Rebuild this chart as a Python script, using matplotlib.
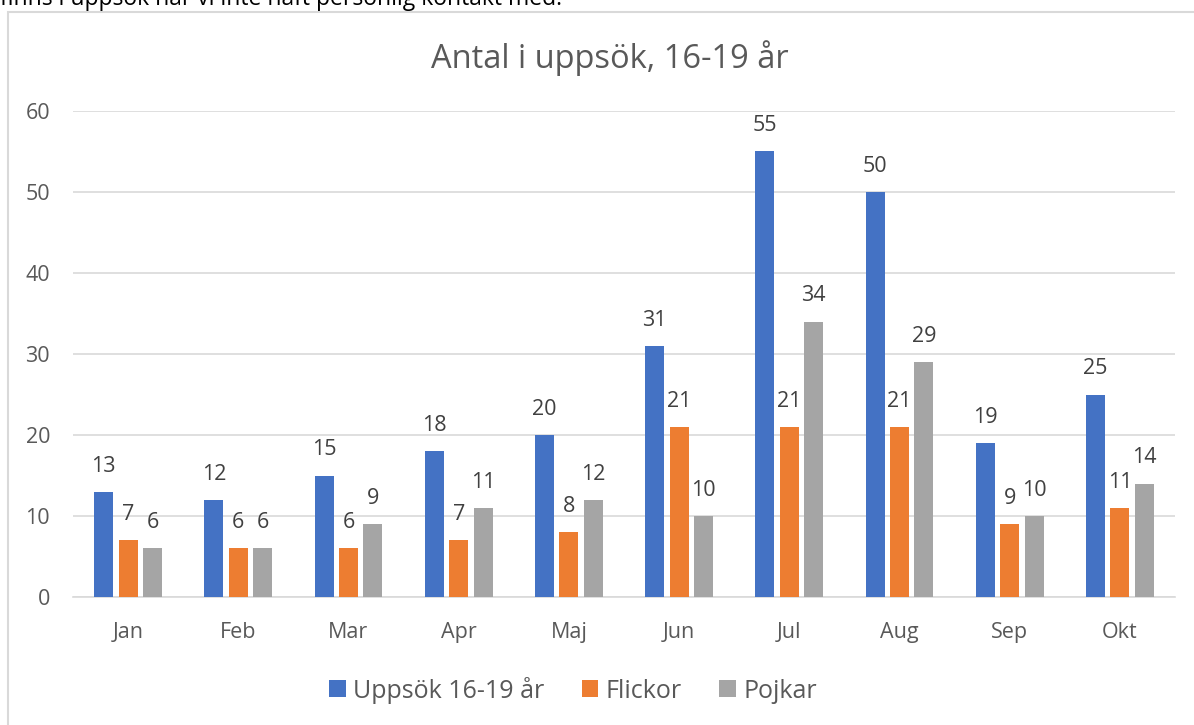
import numpy as np
import matplotlib
matplotlib.use("Agg")
import matplotlib.pyplot as plt
from matplotlib.patches import Rectangle

plt.rcParams['font.family'] = ['Open Sans', 'DejaVu Sans']

months = ["Jan", "Feb", "Mar", "Apr", "Maj", "Jun", "Jul", "Aug", "Sep", "Okt"]
uppsok = [13, 12, 15, 18, 20, 31, 55, 50, 19, 25]
flickor = [7, 6, 6, 7, 8, 21, 21, 21, 9, 11]
pojkar = [6, 6, 9, 11, 12, 10, 34, 29, 10, 14]

series = [("Uppsök 16-19 år", uppsok, "#4472C4"),
          ("Flickor", flickor, "#ED7D31"),
          ("Pojkar", pojkar, "#A5A5A5")]

W, H = 1194, 725
fig = plt.figure(figsize=(W / 100, H / 100), dpi=100)

# chart frame (cut off at right/bottom like a screenshot)
fig.patches.append(Rectangle((8 / W, -0.05), 1.2, 1 - 12 / H + 0.05,
                             transform=fig.transFigure, fill=False,
                             edgecolor="#d9d9d9", linewidth=1.5))
# clipped sentence above the chart
fig.text(0 / W, 1 - 5 / H, "finns i uppsök när vi inte haft personlig kontakt med.",
         fontsize=16.5, color="#000000", va="baseline", ha="left")

ax = fig.add_axes([73 / W, 1 - 597 / H, (1175 - 73) / W, (597 - 111) / H])

x = np.arange(len(months))
width = 0.173
step = 0.222
for i, (name, vals, col) in enumerate(series):
    pos = x + (i - 1) * step
    ax.bar(pos, vals, width, color=col, label=name, zorder=3)
    for xp, v in zip(pos, vals):
        ax.annotate(str(v), (xp, v), xytext=(0, 18.5), textcoords="offset points",
                    ha="center", va="center", fontsize=15.5, color="#404040")

ax.set_xlim(-0.5, len(months) - 0.5)
ax.set_ylim(0, 60)
ax.set_yticks(range(0, 61, 10))
ax.set_xticks(x)
ax.set_xticklabels(months)
ax.grid(axis="y", color="#d9d9d9", linewidth=1.2, zorder=0)
for s in ["top", "right", "left"]:
    ax.spines[s].set_visible(False)
ax.spines["bottom"].set_color("#d9d9d9")
ax.spines["bottom"].set_linewidth(1.2)
ax.tick_params(axis="both", length=0, labelsize=15.5, colors="#595959")
ax.tick_params(axis="x", pad=18)
ax.tick_params(axis="y", pad=16.5)

fig.text(610 / W, 1 - 58 / H, "Antal i uppsök, 16-19 år", ha="center", va="center",
         fontsize=23.5, color="#595959")

leg = fig.legend(loc="center", bbox_to_anchor=(573 / W, 1 - 690 / H), ncol=3,
                 frameon=False, fontsize=18, handlelength=0.65, handleheight=0.65,
                 handletextpad=0.3, columnspacing=1.5)
for t in leg.get_texts():
    t.set_color("#595959")

fig.savefig("out.png", dpi=100)
